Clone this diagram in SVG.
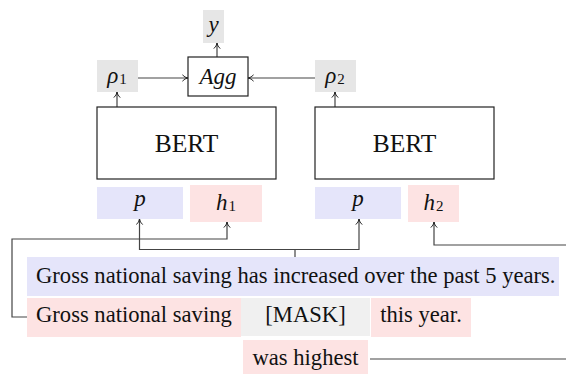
<svg xmlns="http://www.w3.org/2000/svg" width="566" height="374" viewBox="0 0 566 374">
<style>
text{font-family:"Liberation Serif","Times New Roman",serif;fill:#111}
.m{font-style:italic;font-size:23px;text-anchor:middle}
.s{font-style:normal;font-size:15px}
.b{font-size:25.5px;text-anchor:middle}
.w{font-size:22.6px}
.c{text-anchor:middle}
.ln{fill:none;stroke:#444;stroke-width:1.2}
.box{fill:#fff;stroke:#222;stroke-width:1.2}
.gr{fill:#e6e6e6}
.bl{fill:#e5e5fa}
.pk{fill:#fde3e3}
.mk{fill:#f0f0f0}
</style>
<defs>
<marker id="a" viewBox="0 0 10 10" refX="9" refY="5" markerWidth="8" markerHeight="8" markerUnits="userSpaceOnUse" orient="auto">
<path d="M2,1 Q5,4.5 9,5 Q5,5.5 2,9" fill="none" stroke="#222" stroke-width="1.2"/>
</marker>
</defs>
<g id="connectors">
<path class="ln" d="M217,57 V43" marker-end="url(#a)"/>
<path class="ln" d="M138,78 H188" marker-end="url(#a)"/>
<path class="ln" d="M315,78 H248" marker-end="url(#a)"/>
<path class="ln" d="M117,107 V92" marker-end="url(#a)"/>
<path class="ln" d="M335,107 V92" marker-end="url(#a)"/>
<path class="ln" d="M27,317 H12 V239 H227 V222" marker-end="url(#a)"/>
<path class="ln" d="M295,257 V249.5 H139.5 V219" marker-end="url(#a)"/>
<path class="ln" d="M295,249.5 H359 V219" marker-end="url(#a)"/>
<path class="ln" d="M566,245 H434 V222" marker-end="url(#a)"/>
<path class="ln" d="M370,359 H566"/>
</g>
<g id="y"><rect class="gr" x="203" y="10" width="21" height="33"/><text class="m" x="213.5" y="32">y</text></g>
<g id="agg"><rect class="box" x="188" y="57" width="60" height="39"/><text class="m" x="218" y="84">Agg</text></g>
<g id="rho1"><rect class="gr" x="97" y="60" width="41" height="32"/><text class="m" x="117" y="83">ρ<tspan class="s" dx="1" dy="1">1</tspan></text></g>
<g id="rho2"><rect class="gr" x="315" y="60" width="41" height="32"/><text class="m" x="335" y="83">ρ<tspan class="s" dx="1" dy="1">2</tspan></text></g>
<g id="bert1"><rect class="box" x="97" y="107" width="179" height="72"/><text class="b" x="186.5" y="152">BERT</text></g>
<g id="bert2"><rect class="box" x="315" y="107" width="179" height="72"/><text class="b" x="404.5" y="152">BERT</text></g>
<g id="p1"><rect class="bl" x="97" y="187" width="86" height="32"/><text class="m" x="140" y="206">p</text></g>
<g id="h1"><rect class="pk" x="190" y="185" width="72" height="37"/><text class="m" x="226" y="210">h<tspan class="s" dx="1" dy="1">1</tspan></text></g>
<g id="p2"><rect class="bl" x="315" y="187" width="86" height="32"/><text class="m" x="358" y="206">p</text></g>
<g id="h2"><rect class="pk" x="408" y="185" width="51" height="37"/><text class="m" x="433.5" y="210">h<tspan class="s" dx="1" dy="1">2</tspan></text></g>
<g id="s1"><rect class="bl" x="27" y="257" width="532" height="39"/><text class="w" x="36" y="282.5">Gross national saving has increased over the past 5 years.</text></g>
<g id="s2a"><rect class="pk" x="27" y="298" width="214" height="39"/><text class="w" x="36" y="322">Gross national saving</text></g>
<g id="mask"><rect class="mk" x="241" y="298" width="129" height="38"/><text class="w c" x="305.5" y="322">[MASK]</text></g>
<g id="s2b"><rect class="pk" x="371" y="298" width="100" height="39"/><text class="w c" x="421" y="322">this year.</text></g>
<g id="ans"><rect class="pk" x="243" y="340" width="125" height="34"/><text class="w c" x="305.5" y="365">was highest</text></g>
</svg>
